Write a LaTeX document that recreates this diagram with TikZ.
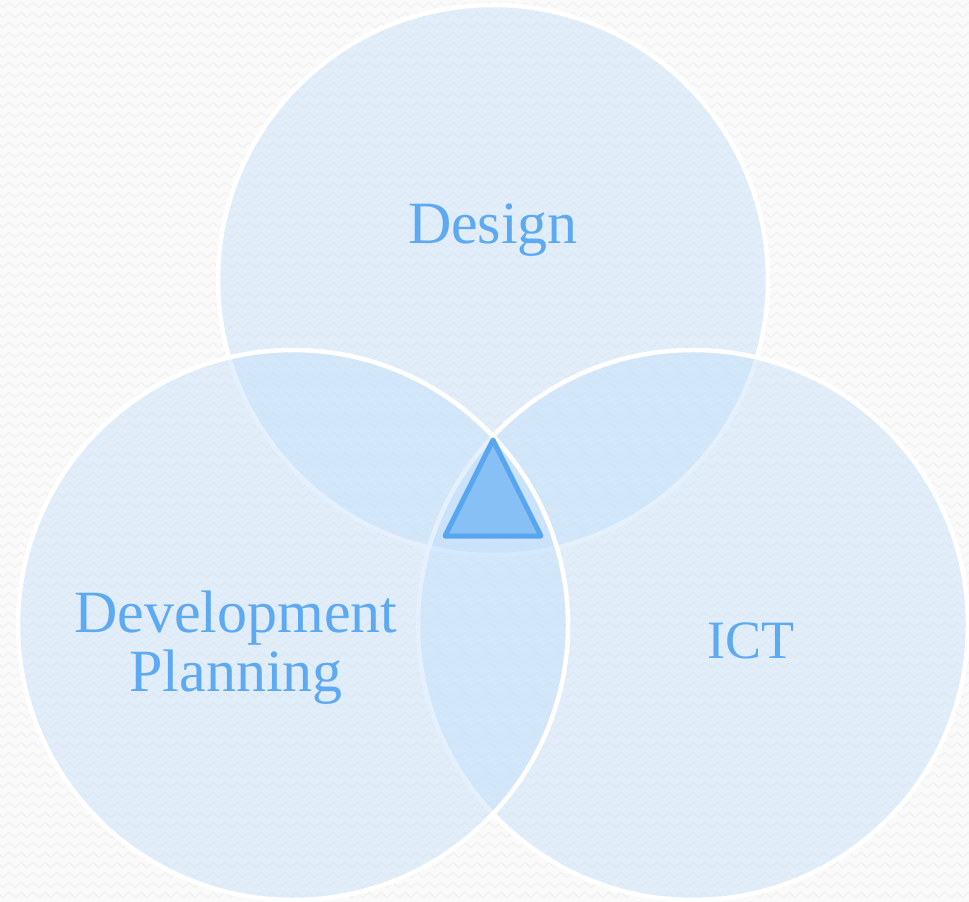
\documentclass[tikz,border=0pt]{standalone}
\usepackage{fontspec}
\setmainfont{Liberation Serif}
\usetikzlibrary{decorations.pathmorphing}
\definecolor{bgc}{RGB}{250,250,250}
\definecolor{zz}{RGB}{241,241,241}
\definecolor{cfill}{RGB}{192,222,252}
\definecolor{txt}{RGB}{93,170,242}
\definecolor{trifill}{RGB}{134,192,244}
\definecolor{triline}{RGB}{88,166,240}
\tikzset{
  venn/.style={draw=white, line width=4.5pt, fill=cfill, fill opacity=0.42},
  lbl/.style={text=txt, font=\fontsize{60}{65}\selectfont, anchor=base, inner sep=0pt},
  zig/.style={draw=zz, line width=1.2pt, decorate, decoration={zigzag, segment length=12pt, amplitude=2.5pt}}
}
\begin{document}
\begin{tikzpicture}[x=1pt,y=-1pt]
\useasboundingbox (0,0) rectangle (969,902);
\fill[bgc] (0,0) rectangle (969,902);
\foreach \r in {0,...,90} {
  \draw[zig] (-6,{5+10*\r}) -- (980,{5+10*\r});
}
\draw[venn] (493,280) circle[radius=275pt];
\draw[venn] (693,625) circle[radius=275pt];
\draw[venn] (293,625) circle[radius=275pt];
\node[lbl] (design) at (493,243) {Design};
\node[lbl] (dev) at (236,632) {Development};
\node[lbl] (plan) at (236,691) {Planning};
\node[lbl, font=\fontsize{54}{60}\selectfont] (ict) at (751,658) {ICT};
\coordinate (t1) at (493,440);
\coordinate (t2) at (445,536);
\coordinate (t3) at (541,536);
\draw[draw=triline, fill=trifill, line width=5pt, line join=round] (t1) -- (t2) -- (t3) -- cycle;
\end{tikzpicture}
\end{document}
